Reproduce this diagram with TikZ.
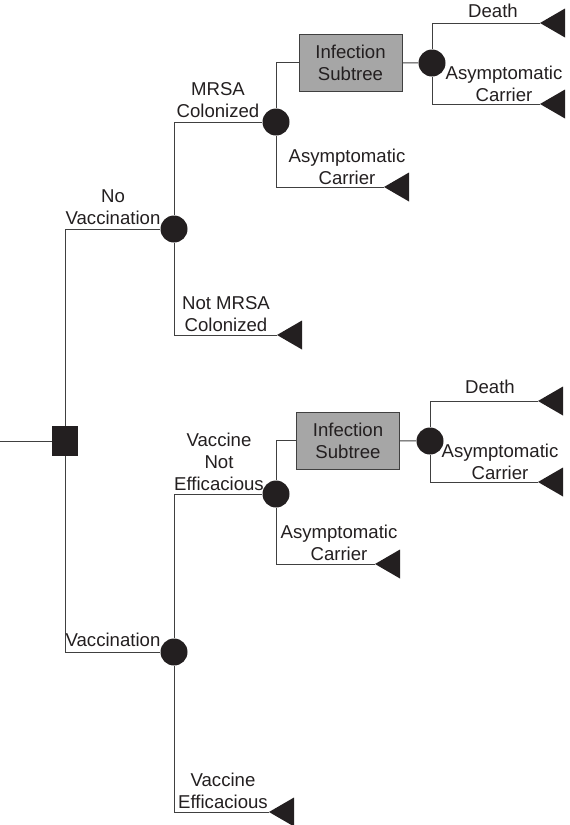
\documentclass[tikz,border=0pt]{standalone}
\usepackage{fontspec}
\setmainfont{Liberation Sans}
\definecolor{ink}{HTML}{231F20}
\definecolor{edge}{HTML}{404040}
\definecolor{boxgray}{HTML}{A6A6A6}
\tikzset{
  chance/.style={circle,fill=ink,minimum size=27pt,inner sep=0pt},
  decision/.style={rectangle,fill=ink,minimum width=26pt,minimum height=30pt,inner sep=0pt},
  subtree/.style={rectangle,draw=edge,fill=boxgray,line width=0.8pt,minimum width=103pt,minimum height=57pt,inner sep=0pt,align=center,font=\fontsize{18.6}{22}\selectfont,text=ink},
  lbl/.style={inner sep=0pt,align=center,font=\fontsize{18.6}{22}\selectfont,text=ink},
  conn/.style={draw=edge,line width=0.9pt},
  term/.pic={\fill[ink] (0,0) -- (25,-14.5) -- (25,14.5) -- cycle;}
}
\begin{document}
\begin{tikzpicture}[x=1pt,y=-1pt]
\useasboundingbox (0,0) rectangle (570,825);
% nodes
\coordinate (in) at (0,441);
\node[decision] (d) at (65,441) {};
\node[chance] (c1) at (174,229) {};
\node[chance] (c2) at (174,652) {};
\node[chance] (c3) at (276,122) {};
\node[chance] (c5) at (276,494) {};
\node[subtree] (b1) at (350.5,62.5) {Infection\\Subtree};
\node[subtree] (b2) at (348,440.5) {Infection\\Subtree};
\node[chance] (c4) at (432,63) {};
\node[chance] (c6) at (430,441) {};
% terminal coordinates
\coordinate (t1) at (277,335);
\coordinate (t2) at (384,187);
\coordinate (t3) at (540,23);
\coordinate (t4) at (540,104);
\coordinate (t5) at (269,812);
\coordinate (t6) at (375,564);
\coordinate (t7) at (538,401);
\coordinate (t8) at (538,482);
\foreach \t in {t1,t2,t3,t4,t5,t6,t7,t8} {\pic at (\t) {term};}
% connectors
\draw[conn] (in) -- (d);
\draw[conn] (d) |- (c1);
\draw[conn] (d) |- (c2);
\draw[conn] (c1) |- (c3);
\draw[conn] (c1) |- (t1);
\draw[conn] (c3) |- (b1.west);
\draw[conn] (c3) |- (t2);
\draw[conn] (b1) -- (c4);
\draw[conn] (c4) |- (t3);
\draw[conn] (c4) |- (t4);
\draw[conn] (c2) |- (c5);
\draw[conn] (c2) |- (t5);
\draw[conn] (c5) |- (b2.west);
\draw[conn] (c5) |- (t6);
\draw[conn] (b2) -- (c6);
\draw[conn] (c6) |- (t7);
\draw[conn] (c6) |- (t8);
% labels
\node[lbl] (l1) at (113,207) {No\\Vaccination};
\node[lbl] (l2) at (218,100) {MRSA\\Colonized};
\node[lbl] (l3) at (226,314) {Not MRSA\\Colonized};
\node[lbl] (l4) at (347,167) {Asymptomatic\\Carrier};
\node[lbl] (l5) at (493,11) {Death};
\node[lbl] (l6) at (504,84) {Asymptomatic\\Carrier};
\node[lbl] (l7) at (113,640) {Vaccination};
\node[lbl] (l8) at (219,462) {Vaccine\\Not\\Efficacious};
\node[lbl] (l9) at (223,791) {Vaccine\\Efficacious};
\node[lbl] (l10) at (339,543) {Asymptomatic\\Carrier};
\node[lbl] (l11) at (490,387) {Death};
\node[lbl] (l12) at (500,462) {Asymptomatic\\Carrier};
\end{tikzpicture}
\end{document}
